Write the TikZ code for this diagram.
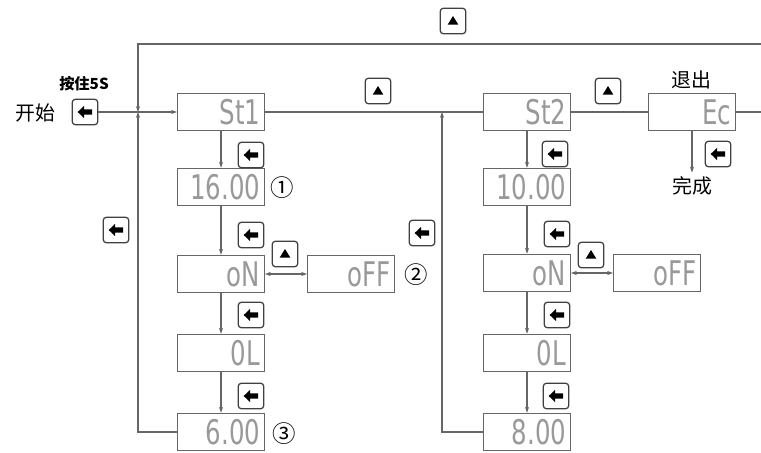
\documentclass[tikz,border=0pt]{standalone}
\usepackage{fontspec}
\newfontfamily\cjk{Noto Sans CJK SC}
\newfontfamily\seg[FakeStretch=0.72]{DejaVu Sans}
\usetikzlibrary{arrows.meta}
\definecolor{linec}{gray}{0.4}
\definecolor{segc}{gray}{0.6}
\tikzset{
  >={Stealth[length=5pt,width=3.5pt]},
  wire/.style={draw=linec,line width=1pt},
  disp/.style={draw=linec,line width=1pt,minimum width=2.6cm,minimum height=1.12cm,
    inner sep=0pt,text width=2.35cm,align=right,text=segc,
    font=\seg\fontsize{29}{29}\selectfont},
  key/.style={draw=black!75,line width=1.1pt,rounded corners=2.5pt,minimum size=0.76cm,inner sep=0pt},
  lkey/.style={key,path picture={
    \fill[black,sharp corners,shift={(path picture bounding box.center)}]
      (-0.22cm,0cm) -- (-0.03cm,0.18cm) -- (-0.03cm,0.08cm) -- (0.21cm,0.08cm)
      -- (0.21cm,-0.08cm) -- (-0.03cm,-0.08cm) -- (-0.03cm,-0.18cm) -- cycle;}},
  ukey/.style={key,path picture={
    \fill[black,sharp corners,shift={(path picture bounding box.center)}]
      (-0.16cm,-0.11cm) -- (0.16cm,-0.11cm) -- (0cm,0.15cm) -- cycle;}},
  cjktext/.style={font=\cjk\fontsize{17}{17}\selectfont},
  cnum/.style={font=\cjk\fontsize{20}{20}\selectfont},
}

\begin{document}
\begin{tikzpicture}[x=0.03cm,y=-0.03cm]
\useasboundingbox (0,0) rectangle (761,453);

% start
\node[cjktext] (start) at (35,113) {开始};
\node[font=\cjk\bfseries\fontsize{13}{13}\selectfont] (hold) at (84,84) {按住5S};
\node[lkey] (kstart) at (85,112) {};

% first group
\node[disp] (st1) at (221,112) {St1};
\node[disp] (v16) at (221,187) {16.00};
\node[disp] (on1) at (221,274) {oN};
\node[disp] (off1) at (351,274) {oFF};
\node[disp] (ol1) at (221,353) {0L};
\node[disp] (v6) at (221,432) {6.00};
\node[cnum] (m1) at (282,188) {①};
\node[cnum] (m2) at (416,275) {②};
\node[cnum] (m3) at (284,434) {③};

% second group
\node[disp] (st2) at (527,112) {St2};
\node[disp] (v10) at (527,187) {10.00};
\node[disp] (on2) at (527,273) {oN};
\node[disp] (off2) at (657,273) {oFF};
\node[disp] (ol2) at (527,353) {0L};
\node[disp] (v8) at (527,432) {8.00};

% exit
\node[disp] (ec) at (692,112) {Ec};
\node[cjktext] (quit) at (691,80) {退出};
\node[cjktext] (done) at (692,186) {完成};

% keys
\foreach \i/\x/\y in {1/251/155,2/251/235,3/251/315,4/251/396,5/116/230,6/422/233,
  7/555/154,8/557/234,9/557/315,10/556/396,11/718/154} {
  \node[lkey] (kl\i) at (\x,\y) {};
}
\foreach \i/\x/\y in {1/453/21,2/378/91,3/608/91,4/285/254,5/591/255} {
  \node[ukey] (ku\i) at (\x,\y) {};
}

% connectors
\coordinate (j1) at (138,112);
\coordinate (j2) at (442,112);
\coordinate (tl) at (138,44);
\coordinate (tr) at (761,44);
\coordinate (rt) at (761,112);

\draw[wire,->] (kstart) -- (st1);
\draw[wire,->] (st1) -- (v16);
\draw[wire,->] (v16) -- (on1);
\draw[wire,->] (on1) -- (ol1);
\draw[wire,->] (ol1) -- (v6);
\draw[wire,<->] (on1) -- (off1);
\draw[wire,->] (st2) -- (v10);
\draw[wire,->] (v10) -- (on2);
\draw[wire,->] (on2) -- (ol2);
\draw[wire,->] (ol2) -- (v8);
\draw[wire,<->] (on2) -- (off2);
\draw[wire] (st1) -- (st2);
\draw[wire] (st2) -- (ec);
\draw[wire] (ec) -- (rt);
\draw[wire,->] (ec) -- (done);
\draw[wire,->] (tr) -- (tl) -- (j1);
\draw[wire,->] (v6.west) -| (j1);
\draw[wire,->] (v8.west) -| (j2);
\end{tikzpicture}
\end{document}
